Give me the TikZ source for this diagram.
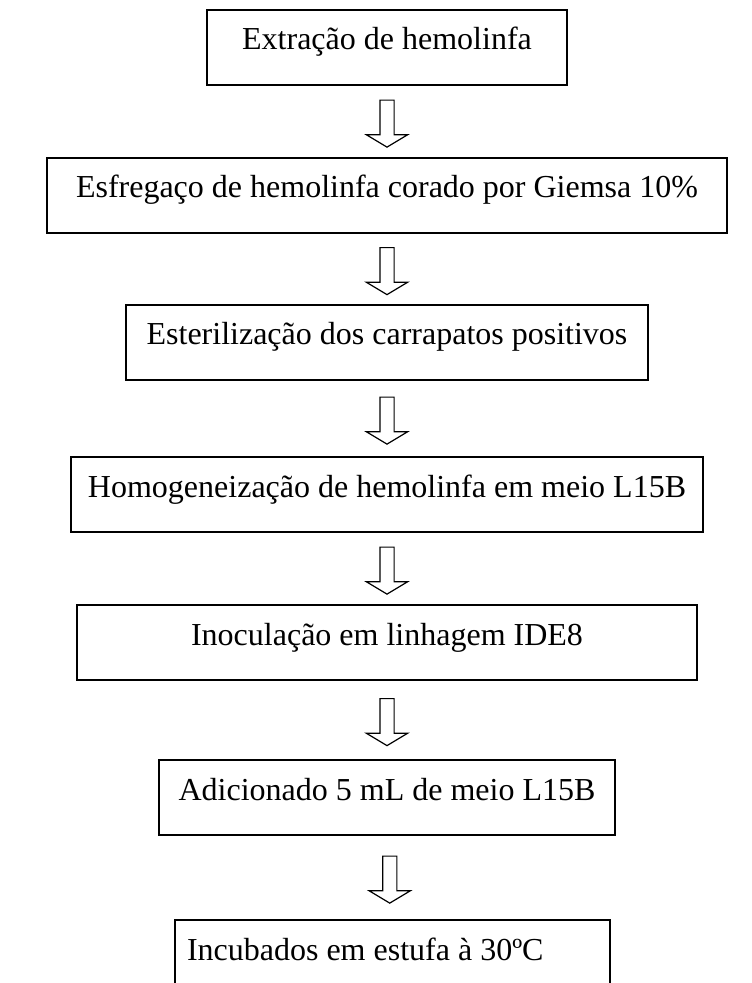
\documentclass[tikz,border=0pt]{standalone}
\usepackage{fontspec}
\setmainfont{Liberation Serif}
\usetikzlibrary{positioning,shapes.arrows}

\begin{document}
\begin{tikzpicture}[
	n_box/.style={
		rectangle,
		draw=black,
		line width=1pt,
		inner xsep=0pt,
		inner ysep=0pt,
		text height=20pt,
		text depth=17.5pt,
		font=\fontsize{16pt}{19pt}\selectfont,
		},
	n_arrow/.style={
		single arrow,
		draw=black,
		line width=0.6pt,
		shape border rotate=270,
		minimum height=23.5pt,
		minimum width=20pt,
		single arrow head extend=6.75pt,
		single arrow tip angle=118,
		inner sep=3.25pt,
		}]
	\clip (0,0) rectangle (375.5pt,-491.5pt);

	\node(extr)[n_box, minimum width=180pt] at (193.5pt,-23.75pt) {Extração de hemolinfa};
	\node(esfr)[n_box, minimum width=340pt, below=35.5pt of extr]{Esfregaço de hemolinfa corado por Giemsa 10\%};
	\node(ester)[n_box, minimum width=261pt, below=35pt of esfr]{Esterilização dos carrapatos positivos};
	\node(homog)[n_box, minimum width=316pt, below=37.5pt of ester]{Homogeneização de hemolinfa em meio L15B};
	\node(inoc)[n_box, minimum width=310pt, below=35.5pt of homog]{Inoculação em linhagem IDE8};
	\node(adic)[n_box, minimum width=228pt, below=39pt of inoc]{Adicionado 5 mL de meio L15B};
	\node(incub)[n_box, inner xsep=6pt, below=41.5pt of adic, xshift=2.75pt]{\makebox[205.5pt][l]{Incubados em estufa à 30ºC}};
	\path (extr) -- node[n_arrow]{} (esfr);
	\path (esfr) -- node[n_arrow]{} (ester);
	\path (ester) -- node[n_arrow]{} (homog);
	\path (homog) -- node[n_arrow]{} (inoc);
	\path (inoc) -- node[n_arrow]{} (adic);
	\path (adic) -- node[n_arrow]{} (incub);

\end{tikzpicture}
\end{document}
